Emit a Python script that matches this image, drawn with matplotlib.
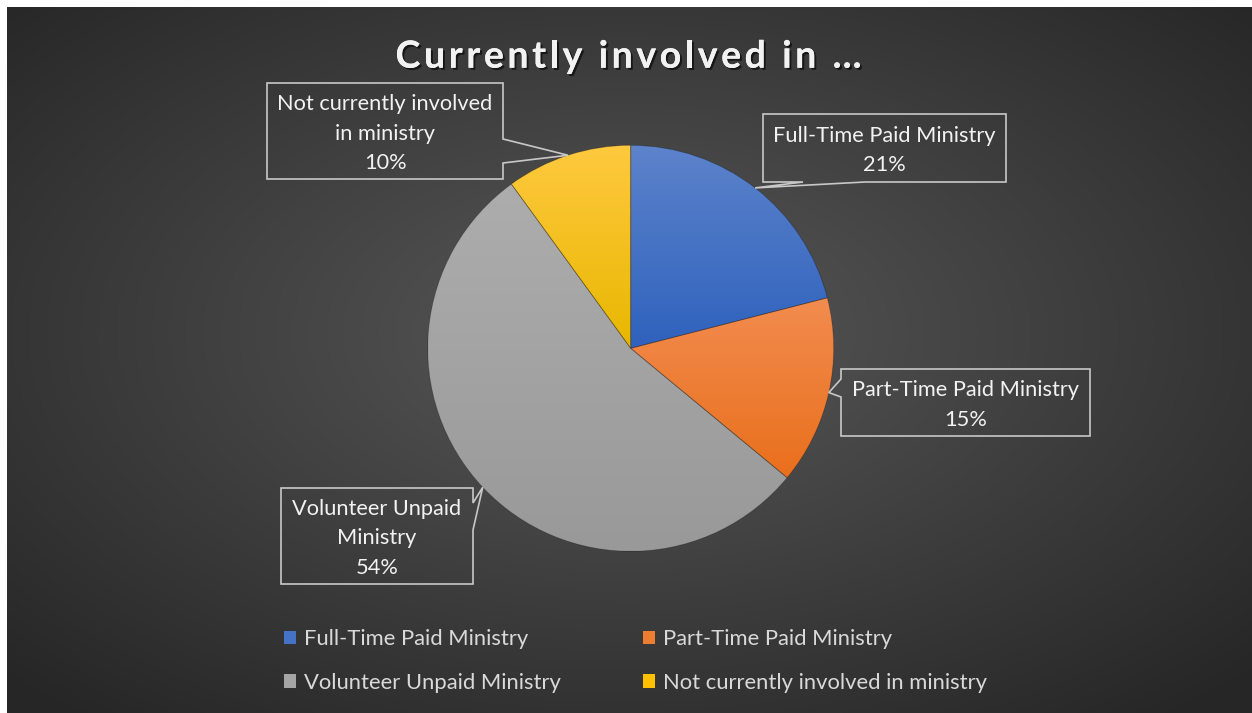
import numpy as np
import matplotlib
matplotlib.use("Agg")
import matplotlib.pyplot as plt
from matplotlib.patches import Polygon, Patch
from matplotlib.colors import LinearSegmentedColormap
from matplotlib.font_manager import FontProperties
import matplotlib.patheffects as pe

plt.rcParams['font.family'] = ['Lato', 'DejaVu Sans']

# data
title = "Currently involved in …"
categories = ["Full-Time Paid Ministry", "Part-Time Paid Ministry",
              "Volunteer Unpaid Ministry", "Not currently involved in ministry"]
label_names = ["Full-Time Paid Ministry", "Part-Time Paid Ministry",
               "Volunteer Unpaid\nMinistry", "Not currently involved\nin ministry"]
shares = [21, 15, 54, 10]

# slice colours (gradient top -> bottom) and flat legend colours
top_colors = ["#5d83cb", "#f28c4f", "#adadad", "#ffc93f"]
bottom_colors = ["#2f62bd", "#e96f1c", "#999999", "#e8b700"]
legend_colors = ["#4472c4", "#ed7d31", "#a5a5a5", "#ffc000"]

W, H = 1252, 713
fig = plt.figure(figsize=(W / 100, H / 100), dpi=100, facecolor='white')
ax = fig.add_axes([0, 0, 1, 1])
ax.axis('off')

# dark radial background (white strip on top and left like the screenshot)
bx0, bx1, by0, by1 = 7, W, 0, H - 7
gx, gy = np.meshgrid(np.linspace(bx0, bx1, 500), np.linspace(by0, by1, 300))
gcx, gcy = 626, 380
d = np.sqrt(((gx - gcx) / (bx1 - bx0) * 2) ** 2 + ((gy - gcy) / (by1 - by0) * 2) ** 2) / np.sqrt(2)
bg_cmap = LinearSegmentedColormap.from_list('bg', ['#585858', '#262626'])
ax.imshow(d, cmap=bg_cmap, vmin=0, vmax=1, extent=(bx0, bx1, by0, by1),
          origin='lower', aspect='auto', zorder=0)

# pie
pie_cx, pie_cy, pie_r = 630.7, H - 348.3, 203
wedges, _ = ax.pie(shares, startangle=90, counterclock=False,
                   center=(pie_cx, pie_cy), radius=pie_r, colors=legend_colors,
                   wedgeprops=dict(edgecolor=(0, 0, 0, 0.25), linewidth=0.6))

grad = np.linspace(0, 1, 256).reshape(-1, 1)
for w, c0, c1 in zip(wedges, top_colors, bottom_colors):
    ext = w.get_path().get_extents()
    cm = LinearSegmentedColormap.from_list('', [c1, c0])
    im = ax.imshow(grad, cmap=cm, extent=(ext.x0, ext.x1, ext.y0, ext.y1),
                   origin='lower', aspect='auto', zorder=2)
    im.set_clip_path(w)
    w.set_facecolor('none')
    w.set_zorder(3)

# callout boxes, in screen pixels (left, top, right, bottom), tail side, tail base
callouts = [
    ((763, 114, 1006, 182), 'bottom', (803, 865)),
    ((841, 369, 1090, 436), 'left', (379, 397)),
    ((281, 488, 473, 584), 'right', (503, 530)),
    ((267, 83, 503, 179), 'right', (139, 163)),
]


def callout_poly(box, side, base, apex):
    l, t, r, b = box
    ax_, ay_ = apex
    pts = [(l, t)]
    if side == 'top':
        pts += [(min(base), t), (ax_, ay_), (max(base), t)]
    pts += [(r, t)]
    if side == 'right':
        pts += [(r, min(base)), (ax_, ay_), (r, max(base))]
    pts += [(r, b)]
    if side == 'bottom':
        pts += [(max(base), b), (ax_, ay_), (min(base), b)]
    pts += [(l, b)]
    if side == 'left':
        pts += [(l, max(base)), (ax_, ay_), (l, min(base))]
    return [(x, H - y) for x, y in pts]


total = sum(shares)
for w, name, v, (box, side, base) in zip(wedges, label_names, shares, callouts):
    mid = np.deg2rad((w.theta1 + w.theta2) / 2)
    apex = (pie_cx + pie_r * np.cos(mid), H - (pie_cy + pie_r * np.sin(mid)))
    poly = Polygon(callout_poly(box, side, base, apex), closed=True,
                   facecolor='none', edgecolor='#c8c8c8', linewidth=1.2, zorder=4)
    ax.add_patch(poly)
    l, t, r, b = box
    ax.text((l + r) / 2, H - (t + b) / 2 - 2.5, f"{name}\n{v / total * 100:.0f}%",
            ha='center', va='center', multialignment='center',
            fontsize=15.7, color='#f2f2f2', linespacing=1.6, zorder=5)

# title with letter spacing, placed glyph by glyph
renderer = fig.canvas.get_renderer()
tprop = FontProperties(family=['Lato', 'DejaVu Sans'], weight='bold', size=27)


def text_w(s):
    return renderer.get_text_width_height_descent(s, tprop, ismath=False)[0]


spacing = 3.6
ref_w = text_w('l')
offsets = [text_w(title[:i] + 'l') - ref_w if i else 0 for i in range(len(title))]
full_w = offsets[-1] + text_w(title[-1]) + spacing * (len(title) - 1)
x_start = 628.5 - full_w / 2
shadow = [pe.withSimplePatchShadow(offset=(1.5, -1.5), shadow_rgbFace='black', alpha=0.6),
          pe.Normal()]
for i, ch in enumerate(title):
    if ch == ' ':
        continue
    ax.text(x_start + offsets[i] + spacing * i, H - 67.7, ch, ha='left', va='baseline',
            fontproperties=tprop, color='#f2f2f2', zorder=5, path_effects=shadow)

# legend, row-wise order
handles = [Patch(facecolor=c, edgecolor='none') for c in legend_colors]
order = [0, 2, 1, 3]
leg = ax.legend([handles[i] for i in order], [categories[i] for i in order],
                ncol=2, loc='center', bbox_to_anchor=(635.5, H - 661),
                bbox_transform=ax.transData, frameon=False, fontsize=15.8,
                handlelength=0.55, handleheight=0.55, handletextpad=0.38,
                columnspacing=3.7, labelspacing=1.08, borderpad=0, borderaxespad=0)
for txt in leg.get_texts():
    txt.set_color('#d9d9d9')

ax.set_xlim(0, W)
ax.set_ylim(0, H)
ax.set_aspect('auto')

fig.savefig('out.png', dpi=100, facecolor='white')
